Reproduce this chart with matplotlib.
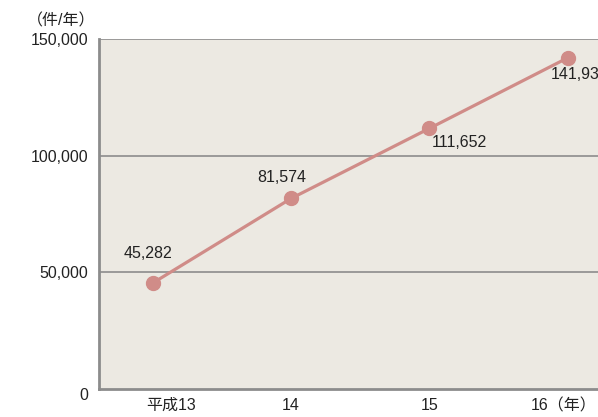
import matplotlib
matplotlib.use("Agg")
import matplotlib.pyplot as plt
import matplotlib.transforms as mtransforms
from matplotlib.ticker import FuncFormatter

plt.rcParams['font.family'] = ['Liberation Sans', 'Noto Sans CJK JP', 'DejaVu Sans']

# 年度別件数
years = ["平成13", "14", "15", "16（年）"]
counts = [45282, 81574, 111652, 141939]
yticks = [0, 50000, 100000, 150000]

BG = "#ECE9E2"
LINE = "#D08C88"
AXIS = "#8C8C8C"
TEXT = "#222222"
FS = 11.5

fig = plt.figure(figsize=(5.98, 4.17), dpi=100, facecolor="white")
ax = fig.add_axes([99 / 598, 28.5 / 417, 520 / 598, 349.5 / 417])
ax.set_facecolor(BG)

x = list(range(len(counts)))
ax.plot(x, counts, color=LINE, lw=2.3, marker="o", ms=10,
        mfc=LINE, mec=LINE, zorder=3, clip_on=False)

ax.set_xlim(-0.389, 3.37)
ax.set_ylim(0, 150000)

# 横線（目盛り位置）
for v in yticks[1:]:
    ax.axhline(v, color=AXIS, lw=1.2, zorder=1)

ax.spines["right"].set_visible(False)
ax.spines["top"].set_visible(False)
for side in ["left", "bottom"]:
    ax.spines[side].set_color(AXIS)
    ax.spines[side].set_linewidth(2)

ax.set_yticks(yticks)
ax.yaxis.set_major_formatter(FuncFormatter(lambda v, _: f"{int(v):,}"))
ax.set_xticks(x)
ax.set_xticklabels(years)
ax.tick_params(axis="both", length=0, colors=TEXT, labelsize=FS)
ax.tick_params(axis="y", pad=8)
ax.tick_params(axis="x", pad=7)

# 個別ラベルの位置調整
shift = lambda dx, dy: mtransforms.ScaledTranslation(dx / 100, dy / 100, fig.dpi_scale_trans)
lbls = ax.get_xticklabels()
lbls[0].set_transform(lbls[0].get_transform() + shift(18, 0))
lbls[3].set_transform(lbls[3].get_transform() + shift(-4, 0))
ylbls = ax.get_yticklabels()
ylbls[0].set_transform(ylbls[0].get_transform() + shift(0, -6))

# 数値ラベル（ピクセル単位のずらし）
offsets = [(-5, 29, "center"), (-9, 21, "center"), (30, -14, "center"), (-17, -17, "left")]
for xi, v, (dx, dy, ha) in zip(x, counts, offsets):
    ax.annotate(f"{v:,}", (xi, v), xytext=(dx, dy),
                textcoords="offset pixels", ha=ha, va="center",
                fontsize=FS, color=TEXT, annotation_clip=False)

fig.text(95 / 598, 1 - 21 / 417, "（件/年）", ha="right", va="center",
         fontsize=FS, color=TEXT)

fig.savefig("out.png", dpi=100, facecolor="white")
